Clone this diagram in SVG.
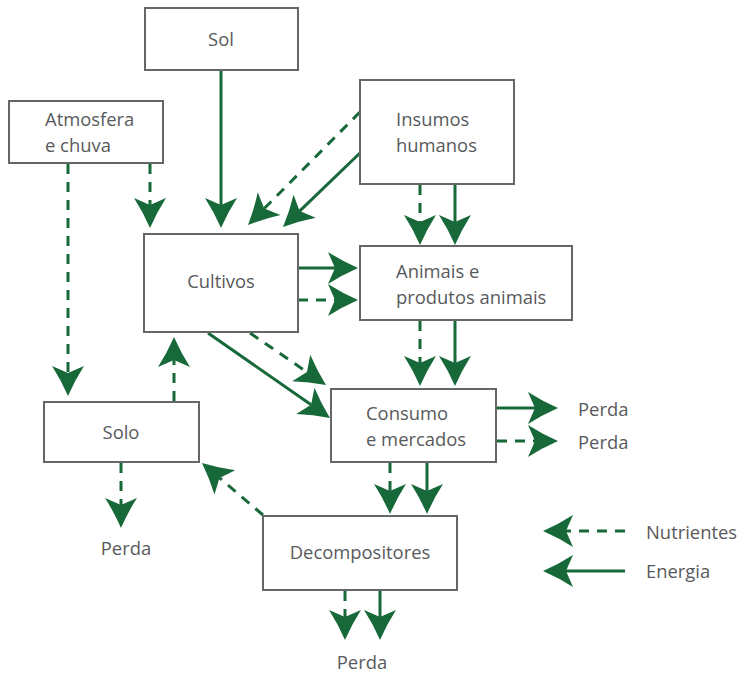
<svg xmlns="http://www.w3.org/2000/svg" width="740" height="675" viewBox="0 0 740 675">
<style>
.box{fill:#fff;stroke:#666;stroke-width:2}
.t{font-family:"Open Sans","Liberation Sans",sans-serif;font-size:18.4px;fill:#58595b}
.c{text-anchor:middle}
.s{fill:none;stroke:#17693a;stroke-width:3;marker-end:url(#ah)}
.d{fill:none;stroke:#17693a;stroke-width:3;stroke-dasharray:10 8;marker-end:url(#ah)}
</style>
<defs>
<marker id="ah" markerUnits="userSpaceOnUse" markerWidth="32" markerHeight="34" refX="7" refY="16" orient="auto" overflow="visible">
<path d="M30,16 Q14,9 0,0 L7,16 L0,32 Q14,23 30,16 Z" fill="#17693a"/>
</marker>
</defs>
<rect width="740" height="675" fill="#fff"/>
<g id="connectors">
<line class="s" x1="221" y1="70" x2="221" y2="205"/>
<line class="d" x1="150" y1="164" x2="150" y2="205"/>
<line class="d" x1="68" y1="164" x2="68" y2="373"/>
<line class="d" x1="360" y1="112" x2="264.2" y2="208.6"/>
<line class="s" x1="360" y1="153" x2="299.6" y2="211.1"/>
<line class="d" x1="420" y1="185" x2="420" y2="222"/>
<line class="s" x1="455" y1="185" x2="455" y2="222"/>
<line class="s" x1="298" y1="268" x2="335" y2="268"/>
<line class="d" x1="298" y1="300" x2="335" y2="300"/>
<line class="d" x1="250" y1="333" x2="307" y2="372"/>
<line class="s" x1="208" y1="333" x2="311.1" y2="404.8"/>
<line class="d" x1="420" y1="321" x2="420" y2="363"/>
<line class="s" x1="455" y1="321" x2="455" y2="363"/>
<line class="s" x1="497" y1="408" x2="535" y2="408"/>
<line class="d" x1="497" y1="441" x2="535" y2="441"/>
<line class="d" x1="390" y1="463" x2="390" y2="491"/>
<line class="s" x1="427" y1="463" x2="427" y2="491"/>
<line class="d" x1="263" y1="515" x2="219.5" y2="477.9"/>
<line class="d" x1="174" y1="401" x2="174" y2="360"/>
<line class="d" x1="121" y1="463" x2="121" y2="505"/>
<line class="d" x1="345" y1="591" x2="345" y2="617"/>
<line class="s" x1="380" y1="591" x2="380" y2="617"/>
<line class="d" x1="625" y1="531" x2="566" y2="531"/>
<line class="s" x1="625" y1="571" x2="566" y2="571"/>
</g>
<g id="sol"><rect class="box" x="145" y="8" width="153" height="62"/><text class="t c" x="221" y="46">Sol</text></g>
<g id="atmosfera"><rect class="box" x="9" y="101" width="154" height="62"/><text class="t" x="45" y="126">Atmosfera</text><text class="t" x="45" y="152">e chuva</text></g>
<g id="insumos"><rect class="box" x="360" y="80" width="154" height="104"/><text class="t" x="396" y="126">Insumos</text><text class="t" x="396" y="152">humanos</text></g>
<g id="cultivos"><rect class="box" x="144" y="234" width="154" height="98"/><text class="t c" x="221" y="288">Cultivos</text></g>
<g id="animais"><rect class="box" x="360" y="246" width="212" height="74"/><text class="t" x="396" y="278">Animais e</text><text class="t" x="396" y="304">produtos animais</text></g>
<g id="consumo"><rect class="box" x="331" y="389" width="165" height="73"/><text class="t" x="366" y="420">Consumo</text><text class="t" x="366" y="446">e mercados</text></g>
<g id="solo"><rect class="box" x="44" y="402" width="155" height="60"/><text class="t c" x="121" y="439">Solo</text></g>
<g id="decompositores"><rect class="box" x="263" y="516" width="194" height="74"/><text class="t c" x="360" y="559">Decompositores</text></g>
<g id="labels">
<text class="t" x="578" y="416">Perda</text>
<text class="t" x="578" y="449">Perda</text>
<text class="t c" x="126" y="555">Perda</text>
<text class="t c" x="362" y="669">Perda</text>
<text class="t" x="646" y="539">Nutrientes</text>
<text class="t" x="646" y="578">Energia</text>
</g>
</svg>
